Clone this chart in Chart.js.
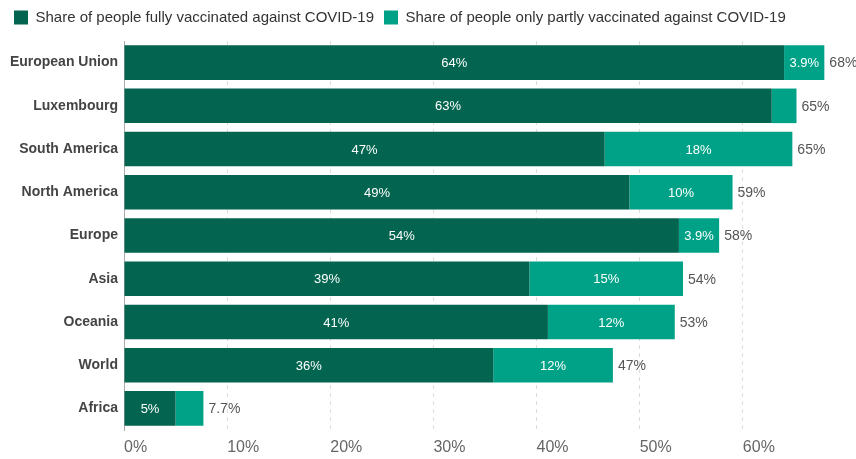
<!DOCTYPE html>
<html>
<head>
<meta charset="utf-8">
<title>COVID-19 vaccination share</title>
<script src="https://cdn.jsdelivr.net/npm/chart.js@4.4.1/dist/chart.umd.min.js"></script>
<style>
    html, body { margin: 0; padding: 0; background: #fff; }
    #wrap { width: 856px; height: 459px; position: relative; }
</style>
</head>
<body>
<div id="wrap"><canvas id="vaxChart"></canvas></div>
<script>
'use strict';

// Regions, top to bottom
var regions = ['European Union', 'Luxembourg', 'South America', 'North America',
               'Europe', 'Asia', 'Oceania', 'World', 'Africa'];

// Share fully vaccinated (%)
var fullyVaccinated = [64.0, 62.8, 46.6, 49.0, 53.8, 39.3, 41.1, 35.8, 5.0];

// Share only partly vaccinated (%)
var partlyVaccinated = [3.9, 2.4, 18.2, 10.0, 3.9, 14.9, 12.3, 11.6, 2.7];

// Value axis ticks (%)
var xTicks = [0, 10, 20, 30, 40, 50, 60, 70];

var DARK_GREEN  = '#03654f';
var TEAL        = '#00a287';
var FONT_FAMILY = '"Liberation Sans", Arial, sans-serif';

/**
 * Two significant digits, no trailing zero: 64 -> "64%", 3.9 -> "3.9%", 5 -> "5%".
 */
function fmtPct(v) {
    return Number(v.toPrecision(2)) + '%';
}

// White value labels inside each segment, grey totals after each bar.
var barLabels = {
    id: 'barLabels',
    afterDatasetsDraw: function(chart) {
        var ctx = chart.ctx;
        var xScale = chart.scales.x;
        ctx.save();
        ctx.textBaseline = 'middle';

        ctx.font = '13px ' + FONT_FAMILY;
        chart.data.datasets.forEach(function(ds, di) {
            var meta = chart.getDatasetMeta(di);
            meta.data.forEach(function(bar, i) {
                var txt = fmtPct(ds.data[i]);
                var w = Math.abs(bar.x - bar.base);
                // skip segments too narrow for their label
                if (ctx.measureText(txt).width + 8 > w) return;
                ctx.fillStyle = '#ffffff';
                ctx.textAlign = 'center';
                ctx.fillText(txt, (bar.x + bar.base) / 2, bar.y + 1);
            });
        });

        var last = chart.getDatasetMeta(chart.data.datasets.length - 1);
        ctx.font = '14px ' + FONT_FAMILY;
        ctx.fillStyle = '#555555';
        ctx.textAlign = 'left';
        regions.forEach(function(r, i) {
            var total = fullyVaccinated[i] + partlyVaccinated[i];
            var x = xScale.getPixelForValue(total) + 5;
            ctx.fillText(fmtPct(total), x, last.data[i].y + 1);
        });
        ctx.restore();
    }
};

var ctx = document.getElementById('vaxChart').getContext('2d');

var chart = new Chart(ctx, {
    type: 'bar',
    data: {
        labels: regions,
        datasets: [{
            label: 'Share of people fully vaccinated against COVID-19',
            data: fullyVaccinated,
            backgroundColor: DARK_GREEN,
            barPercentage: 0.8,
            categoryPercentage: 1.0
        }, {
            label: 'Share of people only partly vaccinated against COVID-19',
            data: partlyVaccinated,
            backgroundColor: TEAL,
            barPercentage: 0.8,
            categoryPercentage: 1.0
        }]
    },
    options: {
        indexAxis: 'y',
        responsive: true,
        maintainAspectRatio: false,
        animation: false,
        layout: {
            padding: { top: 0, right: 10, bottom: 0, left: 4 }
        },
        plugins: {
            legend: {
                position: 'top',
                align: 'start',
                labels: {
                    boxWidth: 14,
                    boxHeight: 14,
                    padding: 10,
                    color: '#333333',
                    font: { family: FONT_FAMILY, size: 15 }
                }
            },
            tooltip: { enabled: false }
        },
        scales: {
            x: {
                stacked: true,
                min: 0,
                max: 70,
                afterBuildTicks: function(scale) {
                    scale.ticks = xTicks.map(function(v) { return { value: v }; });
                },
                afterFit: function(scale) {
                    scale.height = 29;
                },
                border: { display: false, dash: [4, 4] },
                grid: {
                    drawTicks: false,
                    color: function(c) {
                        return (c.tick && c.tick.value > 0 && c.tick.value < 70) ? '#dddddd' : 'rgba(0,0,0,0)';
                    },
                    lineWidth: 1
                },
                ticks: {
                    align: 'start',
                    padding: 8,
                    color: '#666666',
                    font: { family: FONT_FAMILY, size: 16 },
                    callback: function(v) {
                        return v < 70 ? v + '%' : '';
                    }
                }
            },
            y: {
                stacked: true,
                afterFit: function(scale) {
                    scale.width = 120;
                },
                border: { display: true, color: '#aaaaaa', width: 1 },
                grid: { display: false, drawTicks: false },
                ticks: {
                    padding: 6,
                    color: '#444444',
                    font: { family: FONT_FAMILY, size: 14, weight: 'bold' }
                }
            }
        }
    },
    plugins: [barLabels]
});

// leave a little more room between the legend and the bars
var legendFit = chart.legend.fit;
chart.legend.fit = function() {
    legendFit.call(this);
    this.height += 6;
};
chart.update();
</script>
</body>
</html>
